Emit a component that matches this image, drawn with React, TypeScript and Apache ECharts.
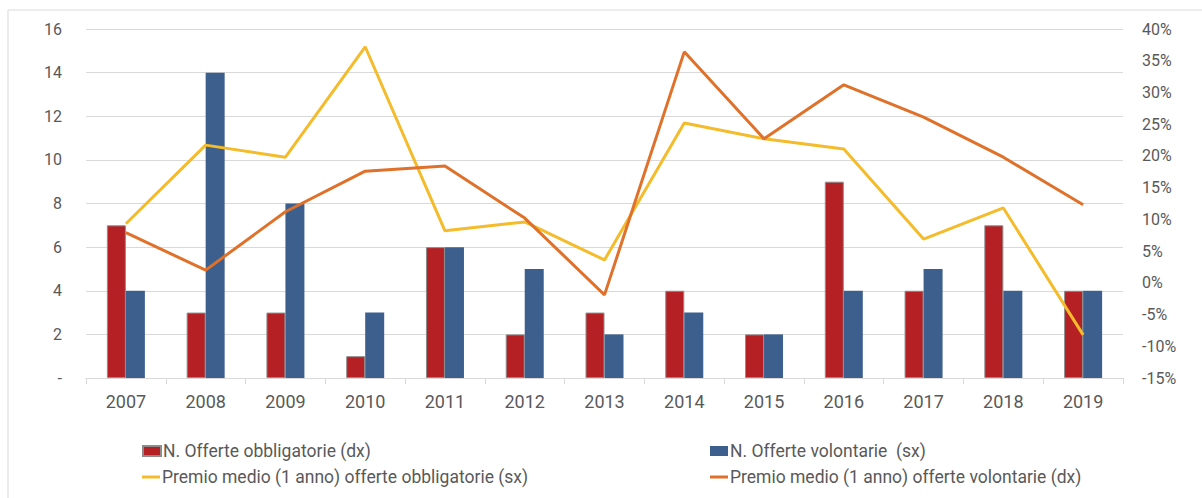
import React, { useEffect, useRef } from "react";
import * as echarts from "echarts";

const years = ["2007","2008","2009","2010","2011","2012","2013","2014","2015","2016","2017","2018","2019"];
const obbligatorie = [7, 3, 3, 1, 6, 2, 3, 4, 2, 9, 4, 7, 4];
const volontarie = [4, 14, 8, 3, 6, 5, 2, 3, 2, 4, 5, 4, 4];
const premioObbligatorie = [9.3, 21.7, 19.8, 37.2, 8.2, 9.6, 3.6, 25.2, 22.7, 21.1, 6.9, 11.8, -8.2];
const premioVolontarie = [7.9, 2.0, 11.2, 17.6, 18.4, 10.2, -1.9, 36.4, 22.7, 31.2, 26.1, 19.8, 12.3];

const names = [
  "N. Offerte obbligatorie (dx)",
  "N. Offerte volontarie  (sx)",
  "Premio medio (1 anno) offerte obbligatorie (sx)",
  "Premio medio (1 anno) offerte volontarie (dx)",
];

const FONT = "Roboto, 'Noto Sans', sans-serif";
const TXT = "#595959";

export default function App() {
  const ref = useRef<HTMLDivElement>(null);
  useEffect(() => {
    if (!ref.current) return;
    const chart = echarts.init(ref.current, undefined, { renderer: "svg" });
    const legendBase = {
      orient: "horizontal",
      itemWidth: 18,
      itemHeight: 10,
      itemGap: 0,
      textStyle: { color: TXT, fontSize: 17.5, fontFamily: FONT, padding: [0, 0, 0, -3] },
    };
    chart.setOption({
      animation: false,
      textStyle: { fontFamily: FONT },
      graphic: [
        {
          type: "rect",
          shape: { x: 8, y: 10, width: 1400, height: 700 },
          style: { fill: "none", stroke: "#d9d9d9", lineWidth: 1 },
          silent: true,
          z: -10,
        },
      ],
      legend: [
        { ...legendBase, left: 137, top: 437, data: [{ name: names[0], icon: "rect" }] },
        { ...legendBase, left: 705, top: 437, data: [{ name: names[1], icon: "rect" }] },
        { ...legendBase, left: 137, top: 463, itemHeight: 3, data: [{ name: names[2], icon: "rect" }] },
        { ...legendBase, left: 705, top: 463, itemHeight: 3, data: [{ name: names[3], icon: "rect" }] },
      ],
      grid: { left: 86, right: 79, top: 29, bottom: 120 },
      xAxis: {
        type: "category",
        data: years,
        axisLine: { lineStyle: { color: "#d9d9d9", width: 1 } },
        axisTick: { show: true, length: 6, lineStyle: { color: "#d9d9d9" } },
        axisLabel: { color: TXT, fontSize: 18, margin: 14, fontFamily: FONT },
      },
      yAxis: [
        {
          type: "value",
          min: 0,
          max: 16,
          interval: 2,
          axisLine: { show: false },
          axisTick: { show: false },
          splitLine: { lineStyle: { color: "#d9d9d9", width: 1 } },
          axisLabel: {
            color: TXT,
            fontSize: 16,
            margin: 24,
            fontFamily: FONT,
            formatter: (v: number) => (v === 0 ? "-" : String(v)),
          },
        },
        {
          type: "value",
          min: -15,
          max: 40,
          interval: 5,
          axisLine: { show: false },
          axisTick: { show: false },
          splitLine: { show: false },
          axisLabel: {
            color: TXT,
            fontSize: 16,
            margin: 19,
            fontFamily: FONT,
            formatter: (v: number) => v + "%",
          },
        },
      ],
      series: [
        {
          name: names[0],
          type: "bar",
          data: obbligatorie,
          barWidth: 19,
          barGap: "0%",
          itemStyle: { color: "#B52025", borderColor: "#8c8c8c", borderWidth: 1 },
          yAxisIndex: 0,
        },
        {
          name: names[1],
          type: "bar",
          data: volontarie,
          barWidth: 19,
          barGap: "0%",
          itemStyle: { color: "#3D5F8D" },
          yAxisIndex: 0,
        },
        {
          name: names[2],
          type: "line",
          data: premioObbligatorie,
          yAxisIndex: 1,
          symbol: "none",
          lineStyle: { color: "#F4BB2A", width: 3 },
          itemStyle: { color: "#F4BB2A" },
        },
        {
          name: names[3],
          type: "line",
          data: premioVolontarie,
          yAxisIndex: 1,
          symbol: "none",
          lineStyle: { color: "#E0712A", width: 3 },
          itemStyle: { color: "#E0712A" },
        },
      ],
    });
    return () => chart.dispose();
  }, []);
  return (
    <div
      ref={ref}
      style={{ position: "absolute", left: 0, top: 0, width: 1202, height: 498, background: "#fff" }}
    />
  );
}
